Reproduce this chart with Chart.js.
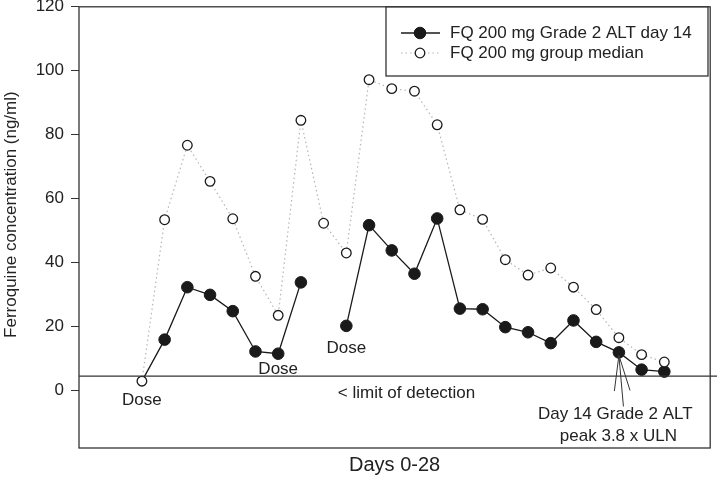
<!DOCTYPE html>
<html>
<head>
<meta charset="utf-8">
<script src="https://cdn.jsdelivr.net/npm/chart.js@4"></script>
<style>
  html, body { margin: 0; padding: 0; background: #fff; }
  #wrap { width: 717px; height: 477px; }
</style>
</head>
<body>
<div id="wrap"><canvas id="myChart" width="717" height="477"></canvas></div>
<script>
// sample number along the 28 days (evenly spaced)
var samples = [0, 1, 2, 3, 4, 5, 6, 7, 8, 9, 10, 11, 12, 13, 14, 15, 16, 17, 18, 19, 20, 21, 22, 23];
var patientValues = [2.9, 15.9, 32.3, 29.9, 24.8, 12.2, 11.5, 33.8, null, 20.2, 51.7, 43.8, 36.5, 53.8, 25.6, 25.4, 19.8, 18.2, 14.8, 21.9, 15.2, 11.9, 6.5, 5.9];
var medianValues = [2.9, 53.4, 76.7, 65.4, 53.7, 35.7, 23.5, 84.5, 52.3, 43.0, 97.2, 94.4, 93.6, 83.1, 56.5, 53.5, 40.9, 36.1, 38.3, 32.3, 25.3, 16.5, 11.2, 8.9];
var yTicks = [0, 20, 40, 60, 80, 100, 120];
var limitOfDetection = 4.5;
var doseLabels = [{ i: 0, y: -3.1 }, { i: 6, y: 6.6 }, { i: 9, y: 13.1 }];

var FONT = '"Liberation Sans", Arial, sans-serif';
var INK = '#222';

var annotations = {
  id: 'annotations',
  afterDatasetsDraw: function(chart) {
    var c = chart.ctx, a = chart.chartArea;
    var xs = chart.scales.x, ys = chart.scales.y;
    c.save();
    // limit of detection line
    c.strokeStyle = '#333';
    c.lineWidth = 1.2;
    c.beginPath();
    c.moveTo(a.left, ys.getPixelForValue(limitOfDetection));
    c.lineTo(chart.width, ys.getPixelForValue(limitOfDetection));
    c.stroke();

    c.fillStyle = INK;
    c.font = '17px ' + FONT;
    c.textAlign = 'center';
    c.textBaseline = 'middle';
    doseLabels.forEach(function(d) {
      c.fillText('Dose', xs.getPixelForValue(d.i), ys.getPixelForValue(d.y));
    });
    c.fillText('< limit of detection', xs.getPixelForValue(11.65), ys.getPixelForValue(-0.9));
    c.fillText('Day 14 Grade 2 ALT', xs.getPixelForValue(20.84), ys.getPixelForValue(-7.5));
    c.fillText('peak 3.8 x ULN', xs.getPixelForValue(20.98), ys.getPixelForValue(-14.4));

    // y axis title, placed as in the original figure
    c.save();
    c.translate(11, ys.getPixelForValue(55));
    c.rotate(-Math.PI / 2);
    c.font = '17px ' + FONT;
    c.fillText('Ferroquine concentration (ng/ml)', 0, 0);
    c.restore();

    // arrow to day 14 point
    var tipX = xs.getPixelForValue(21), tipY = ys.getPixelForValue(patientValues[21]) + 3;
    c.strokeStyle = '#333';
    c.lineWidth = 1;
    c.beginPath();
    c.moveTo(xs.getPixelForValue(21.2), ys.getPixelForValue(-5));
    c.lineTo(tipX, tipY);
    c.moveTo(xs.getPixelForValue(20.8), ys.getPixelForValue(-0.2));
    c.lineTo(tipX, tipY);
    c.lineTo(xs.getPixelForValue(21.49), ys.getPixelForValue(0));
    c.stroke();

    // frame
    c.strokeStyle = '#333';
    c.lineWidth = 1.3;
    c.strokeRect(a.left, a.top, a.right - a.left, a.bottom - a.top);

    // legend
    var lx = 386, ly = 7, lw = 322, lh = 69;
    c.fillStyle = '#fff';
    c.fillRect(lx, ly, lw, lh);
    c.strokeRect(lx, ly, lw, lh);
    var rows = [
      { text: 'FQ 200 mg Grade 2 ALT day 14', y: 33, ds: chart.data.datasets[1] },
      { text: 'FQ 200 mg group median', y: 53, ds: chart.data.datasets[0] }
    ];
    rows.forEach(function(r) {
      c.strokeStyle = r.ds.borderColor;
      c.lineWidth = r.ds.borderWidth;
      c.setLineDash(r.ds.borderDash || []);
      c.beginPath();
      c.moveTo(401, r.y);
      c.lineTo(440, r.y);
      c.stroke();
      c.setLineDash([]);
      c.beginPath();
      c.arc(420, r.y, r.ds.legendRadius, 0, Math.PI * 2);
      c.fillStyle = r.ds.pointBackgroundColor;
      c.fill();
      c.strokeStyle = r.ds.pointBorderColor;
      c.lineWidth = r.ds.pointBorderWidth;
      c.stroke();
      c.fillStyle = INK;
      c.font = '17px ' + FONT;
      c.textAlign = 'left';
      c.fillText(r.text, 450, r.y);
    });
    c.restore();
  }
};

var ctx = document.getElementById('myChart').getContext('2d');
var myChart = new Chart(ctx, {
  type: 'line',
  data: {
    datasets: [{
      label: 'FQ 200 mg group median',
      data: samples.map(function(s, i) { return { x: s, y: medianValues[i] }; }),
      borderColor: '#b5b5b5',
      borderWidth: 1.2,
      borderDash: [1.5, 3],
      pointRadius: 4.8,
      legendRadius: 4.8,
      pointBackgroundColor: '#fff',
      pointBorderColor: '#1a1a1a',
      pointBorderWidth: 1.3,
      order: 0
    }, {
      label: 'FQ 200 mg Grade 2 ALT day 14',
      data: samples.map(function(s, i) { return { x: s, y: patientValues[i] }; }),
      borderColor: '#1a1a1a',
      borderWidth: 1.3,
      pointRadius: samples.map(function(s, i) { return i === 0 ? 0 : 5.8; }),
      legendRadius: 5.8,
      pointBackgroundColor: '#1a1a1a',
      pointBorderColor: '#1a1a1a',
      pointBorderWidth: 1,
      spanGaps: false,
      order: 1
    }]
  },
  options: {
    responsive: false,
    animation: false,
    events: [],
    layout: { padding: { top: 6, right: 6, left: 0, bottom: 0 } },
    plugins: { legend: { display: false }, tooltip: { enabled: false } },
    scales: {
      x: {
        type: 'linear',
        min: -2.77,
        max: 25.02,
        afterFit: function(s) { s.height = 29; s.paddingLeft = 0; s.paddingRight = 0; },
        grid: { display: false, drawTicks: false },
        border: { display: false },
        ticks: { display: false },
        title: { display: true, text: 'Days 0-28', color: INK, font: { family: FONT, size: 20 }, padding: 0 }
      },
      y: {
        min: -18,
        max: 120,
        afterBuildTicks: function(s) { s.ticks = yTicks.map(function(v) { return { value: v }; }); },
        afterFit: function(s) { s.width = 79; s.paddingTop = 0; s.paddingBottom = 0; },
        grid: { drawOnChartArea: false, tickLength: 8, color: '#333', lineWidth: 1 },
        border: { display: false },
        ticks: { color: INK, padding: 7, font: { family: FONT, size: 17 } },
        title: { display: false }
      }
    }
  },
  plugins: [annotations]
});
</script>
</body>
</html>
